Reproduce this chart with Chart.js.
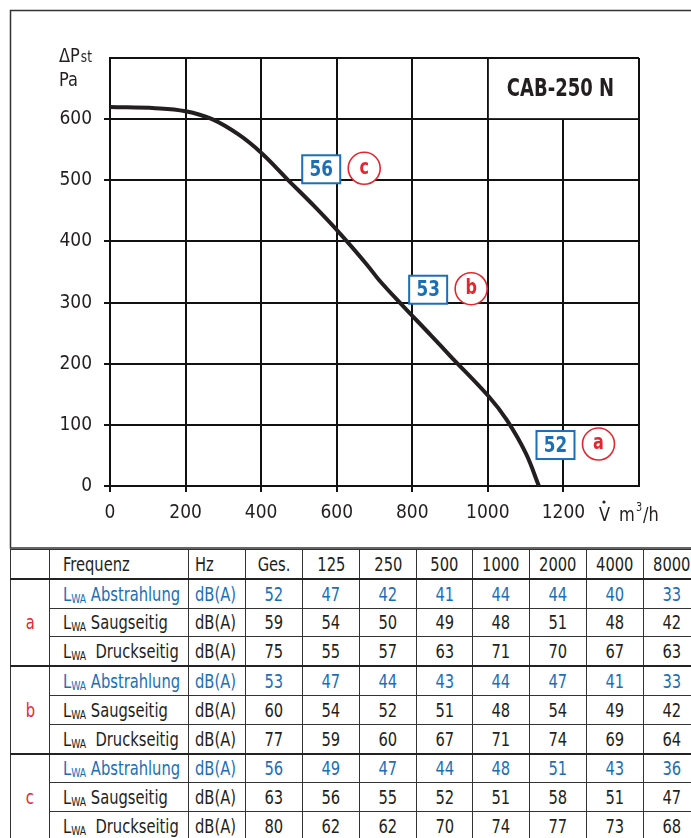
<!DOCTYPE html>
<html>
<head>
<meta charset="utf-8">
<script src="https://cdn.jsdelivr.net/npm/chart.js@4/dist/chart.umd.min.js"></script>
<style>
  body { margin: 0; background: #fff; width: 691px; height: 838px; overflow: hidden; position: relative; }
  #wrap { position: absolute; left: 0; top: 0; width: 691px; height: 549px; }
  table { position: absolute; left: 10px; top: 549px; width: 690px; border-collapse: collapse; table-layout: fixed;
          font-family: "DejaVu Sans Condensed", "Liberation Sans", sans-serif; font-size: 19px; color: #231f20; }
  td { border: 1.5px solid #333; height: 27.8px; padding: 0; text-align: center; white-space: nowrap; overflow: hidden; }
  td span { display: inline-block; transform: scaleX(0.86); transform-origin: center; }
  td.name, td.unit { text-align: left; }
  td.name span, td.unit span { transform-origin: left center; }
  td.name { padding-left: 13px; }
  td.unit { padding-left: 6px; }
  td.grp { color: #e3262f; }
  tr.blue td { color: #1a6fb6; }
  tr.blue td.grp { color: #e3262f; }
  sub { font-size: 12px; vertical-align: -2px; line-height: 0; }
  td.grp-top { border-top: 2px solid #222; }
</style>
</head>
<body>
<div id="wrap"><canvas id="chart" width="691" height="549"></canvas></div>
<table id="tab"></table>
<script>
// Kennlinie (Volumenstrom m3/h, statischer Druck Pa)
const flow = [0, 120, 200, 270, 340, 400, 472, 540, 610, 680, 712, 770, 850, 900, 1003, 1050, 1100, 1135];
const pressure = [620, 618, 613, 600, 575, 545, 500, 458, 412, 362, 337, 298, 246, 213, 146, 108, 54, 0];

// Achsen
const xTicks = [0, 200, 400, 600, 800, 1000, 1200, 1400];
const yTicks = [0, 100, 200, 300, 400, 500, 600, 700];

// Betriebspunkte a, b, c (Schallleistung)
const pointFlow = [1179, 842, 559];
const pointPressure = [67, 321, 518];
const pointLevels = ['52', '53', '56'];
const pointLetters = ['a', 'b', 'c'];

// Tabelle
const headers = ['Frequenz', 'Hz', 'Ges.', '125', '250', '500', '1000', '2000', '4000', '8000'];
const groups = ['a', 'b', 'c'];
const rowNames = ['Abstrahlung', 'Saugseitig', 'Druckseitig'];
const levelsA = [[52, 47, 42, 41, 44, 44, 40, 33], [59, 54, 50, 49, 48, 51, 48, 42], [75, 55, 57, 63, 71, 70, 67, 63]];
const levelsB = [[53, 47, 44, 43, 44, 47, 41, 33], [60, 54, 52, 51, 48, 54, 49, 42], [77, 59, 60, 67, 71, 74, 69, 64]];
const levelsC = [[56, 49, 47, 44, 48, 51, 43, 36], [63, 56, 55, 52, 51, 58, 51, 47], [80, 62, 62, 70, 74, 77, 73, 68]];

const FONT = '"DejaVu Sans Condensed", "Liberation Sans", sans-serif';
const INK = '#231f20';
const BLUE = '#1a6fb6';
const RED = '#e3262f';

// schmal geschriebener Text (Ersatz für Helvetica Condensed)
function narrowText(ctx, text, x, y, sx) {
    ctx.save();
    ctx.translate(x, y);
    ctx.scale(sx, 1);
    ctx.fillText(text, 0, 0);
    ctx.restore();
}

// Zusatzbeschriftungen im Diagramm
const overlay = {
    id: 'overlay',
    beforeDatasetsDraw(chart) {
        const { ctx, scales: { x, y } } = chart;
        // Feld für die Typbezeichnung (ohne Gitterlinie)
        const l = x.getPixelForValue(1000), r = x.getPixelForValue(1400);
        const t = y.getPixelForValue(700), b = y.getPixelForValue(600);
        ctx.save();
        ctx.fillStyle = '#fff';
        ctx.fillRect(l + 1, t + 1, r - l - 2, b - t - 2);
        ctx.fillStyle = INK;
        ctx.font = 'bold 25px ' + FONT;
        ctx.textAlign = 'center';
        ctx.textBaseline = 'middle';
        narrowText(ctx, 'CAB-250 N', (l + r) / 2 - 3, (t + b) / 2 + 1, 0.8);
        ctx.restore();
    },
    afterDatasetsDraw(chart) {
        const { ctx, scales: { x, y } } = chart;
        ctx.save();
        for (let i = 0; i < pointFlow.length; i++) {
            const cx = x.getPixelForValue(pointFlow[i]);
            const cy = y.getPixelForValue(pointPressure[i]);
            // Kasten mit Pegel
            ctx.fillStyle = '#fff';
            ctx.fillRect(cx - 19, cy - 14, 38, 28);
            ctx.strokeStyle = BLUE;
            ctx.lineWidth = 2;
            ctx.strokeRect(cx - 19, cy - 14, 38, 28);
            ctx.fillStyle = BLUE;
            ctx.font = 'bold 22px ' + FONT;
            ctx.textAlign = 'center';
            ctx.textBaseline = 'middle';
            narrowText(ctx, pointLevels[i], cx, cy + 1, 0.85);
            // Kreis mit Buchstabe
            const kx = cx + 43;
            ctx.beginPath();
            ctx.arc(kx, cy - 1, 16, 0, Math.PI * 2);
            ctx.fillStyle = '#fff';
            ctx.fill();
            ctx.strokeStyle = RED;
            ctx.lineWidth = 1.6;
            ctx.stroke();
            ctx.fillStyle = RED;
            ctx.font = 'bold 21px ' + FONT;
            narrowText(ctx, pointLetters[i], kx, cy - 1, 0.85);
        }
        ctx.restore();
    },
    afterDraw(chart) {
        const { ctx } = chart;
        ctx.save();
        ctx.fillStyle = INK;
        ctx.textBaseline = 'alphabetic';
        ctx.textAlign = 'left';
        // y-Achsentitel
        ctx.font = '20px ' + FONT;
        narrowText(ctx, '\u0394P', 59, 62, 0.9);
        const w = ctx.measureText('\u0394P').width * 0.9;
        ctx.font = '15px ' + FONT;
        narrowText(ctx, 'st', 59 + w + 1, 62, 0.9);
        ctx.font = '20px ' + FONT;
        narrowText(ctx, 'Pa', 59, 86, 0.9);
        // x-Achsentitel
        narrowText(ctx, 'V', 599, 521, 0.9);
        ctx.beginPath();
        ctx.arc(604, 502, 1.6, 0, Math.PI * 2);
        ctx.fill();
        narrowText(ctx, 'm', 619, 521, 0.9);
        ctx.font = '12px ' + FONT;
        narrowText(ctx, '3', 636, 511, 0.9);
        ctx.font = '20px ' + FONT;
        narrowText(ctx, '/h', 643, 521, 0.9);
        // Rahmen
        ctx.strokeStyle = '#333';
        ctx.lineWidth = 1.5;
        ctx.strokeRect(10.5, 10.5, 700, 537.5);
        ctx.restore();
    }
};

new Chart(document.getElementById('chart'), {
    type: 'line',
    data: {
        datasets: [{
            data: flow.map((v, i) => ({ x: v, y: pressure[i] })),
            borderColor: INK,
            borderWidth: 4,
            pointRadius: 0,
            tension: 0.4,
            fill: false
        }]
    },
    options: {
        responsive: false,
        animation: false,
        layout: { padding: { left: 0, top: 58, right: 52, bottom: 0 } },
        plugins: { legend: { display: false }, tooltip: { enabled: false } },
        scales: {
            x: {
                type: 'linear',
                min: 0,
                max: 1400,
                afterBuildTicks: s => { s.ticks = xTicks.map(v => ({ value: v })); },
                afterFit: s => { s.height = 63; },
                ticks: {
                    color: INK,
                    font: { family: FONT, size: 19 },
                    padding: 10,
                    maxRotation: 0,
                    callback: v => (v === 1400 ? '' : v)
                },
                grid: {
                    color: '#111',
                    lineWidth: 2,
                    tickLength: 6,
                    tickColor: c => (c.tick && c.tick.value === 1400 ? 'rgba(0,0,0,0)' : '#111')
                },
                border: { color: '#111', width: 2 }
            },
            y: {
                type: 'linear',
                min: 0,
                max: 700,
                afterBuildTicks: s => { s.ticks = yTicks.map(v => ({ value: v })); },
                afterFit: s => { s.width = 110; },
                ticks: {
                    color: INK,
                    font: { family: FONT, size: 19 },
                    padding: 12,
                    callback: v => (v === 700 ? '' : v)
                },
                grid: {
                    color: '#111',
                    lineWidth: 2,
                    tickLength: 6,
                    tickColor: c => (c.tick && c.tick.value === 700 ? 'rgba(0,0,0,0)' : '#111')
                },
                border: { color: '#111', width: 2 }
            }
        }
    },
    plugins: [overlay]
});

// Geräuschtabelle aufbauen
(function buildTable() {
    const tab = document.getElementById('tab');
    const widths = [39, 139, 57, 57, 57, 57, 56, 57, 57, 57, 57];
    let html = '<colgroup>' + widths.map(w => '<col style="width:' + w + 'px">').join('') + '</colgroup>';
    html += '<tr><td></td><td class="name"><span>' + headers[0] + '</span></td><td class="unit"><span>' + headers[1] + '</span></td>';
    headers.slice(2).forEach(h => { html += '<td><span>' + h + '</span></td>'; });
    html += '<td></td></tr>';
    [levelsA, levelsB, levelsC].forEach((lv, g) => {
        lv.forEach((row, r) => {
            html += '<tr' + (r === 0 ? ' class="blue"' : '') + '>';
            if (r === 0) html += '<td class="grp grp-top" rowspan="3"><span>' + groups[g] + '</span></td>';
            const sep = r === 0 ? ' grp-top' : '';
            const gap = r === 2 ? '&nbsp;' : '';
            html += '<td class="name' + sep + '"><span>L<sub>WA</sub> ' + gap + rowNames[r] + '</span></td>';
            html += '<td class="unit' + sep + '"><span>dB(A)</span></td>';
            row.forEach(v => { html += '<td class="' + sep + '"><span>' + v + '</span></td>'; });
            html += '<td class="' + sep + '"></td></tr>';
        });
    });
    tab.innerHTML = html;
})();
</script>
</body>
</html>
